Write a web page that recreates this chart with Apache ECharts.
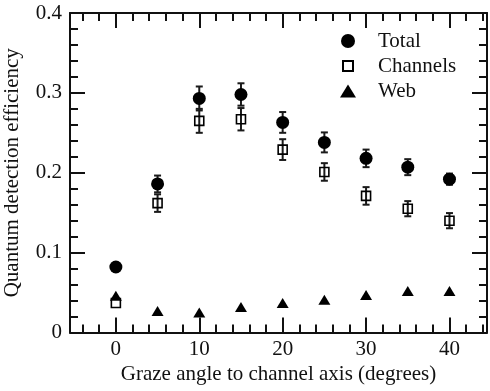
<!DOCTYPE html>
<html>
<head>
<meta charset="utf-8">
<script src="https://cdn.jsdelivr.net/npm/echarts@6/dist/echarts.min.js"></script>
<style>
html, body { margin: 0; padding: 0; background: #fff; }
#chart { width: 490px; height: 391px; }
</style>
</head>
<body>
<div id="chart"></div>
<script>
// Graze angles (degrees) and measured quantum detection efficiency
const angles = [0, 5, 10, 15, 20, 25, 30, 35, 40];
const totalQDE = [0.082, 0.186, 0.293, 0.298, 0.263, 0.238, 0.218, 0.207, 0.192];
const totalErr = [0, 0.0105, 0.015, 0.014, 0.013, 0.0125, 0.011, 0.010, 0.007];
const channelQDE = [0.037, 0.162, 0.265, 0.267, 0.229, 0.201, 0.171, 0.155, 0.140];
const channelErr = [0, 0.011, 0.015, 0.014, 0.013, 0.011, 0.011, 0.0095, 0.0095];
const webQDE = [0.046, 0.027, 0.025, 0.032, 0.037, 0.041, 0.047, 0.052, 0.052];

// Axis ticks
const xMajorTicks = [0, 10, 20, 30, 40];
const xMinorTicks = [-4, -2, 2, 4, 6, 8, 12, 14, 16, 18, 22, 24, 26, 28, 32, 34, 36, 38, 42, 44];
const yTicks = [0, 0.1, 0.2, 0.3, 0.4];

const X_MIN = -5.5, X_MAX = 44.5;
const INK = '#111';
const SERIF = '"Liberation Serif", "Times New Roman", serif';
const font = { fontFamily: SERIF, fontSize: 21, color: INK };

function errorBars(name, values, errs) {
  const rows = [];
  angles.forEach((a, i) => {
    if (errs[i] > 0) rows.push([a, values[i] - errs[i], values[i] + errs[i]]);
  });
  return {
    name: name + ' error',
    type: 'custom',
    silent: true,
    z: 1,
    encode: { x: 0, y: [1, 2] },
    data: rows,
    renderItem(params, api) {
      const x = api.value(0);
      const lo = api.coord([x, api.value(1)]);
      const hi = api.coord([x, api.value(2)]);
      const w = 3.5;
      const style = { stroke: '#1a1a1a', lineWidth: 2 };
      return {
        type: 'group',
        children: [
          { type: 'line', shape: { x1: lo[0], y1: lo[1], x2: hi[0], y2: hi[1] }, style },
          { type: 'line', shape: { x1: lo[0] - w, y1: lo[1], x2: lo[0] + w, y2: lo[1] }, style },
          { type: 'line', shape: { x1: hi[0] - w, y1: hi[1], x2: hi[0] + w, y2: hi[1] }, style }
        ]
      };
    }
  };
}

function xAxisDef(position, ticks, len, opts) {
  return Object.assign({
    type: 'value',
    position: position,
    min: X_MIN,
    max: X_MAX,
    axisLine: { show: false, onZero: false },
    axisTick: { show: true, inside: true, length: len, customValues: ticks, lineStyle: { color: INK, width: 2 } },
    axisLabel: { show: false },
    splitLine: { show: false }
  }, opts || {});
}

const chart = echarts.init(document.getElementById('chart'), null, { renderer: 'canvas' });

chart.setOption({
  backgroundColor: '#fff',
  animation: false,
  grid: { left: 70, right: 3, top: 13, bottom: 58.5, containLabel: false, outerBoundsMode: 'none' },
  legend: {
    orient: 'vertical',
    left: 334,
    top: 25,
    itemWidth: 16,
    itemHeight: 14,
    itemGap: 3,
    selectedMode: false,
    textStyle: Object.assign({}, font, { lineHeight: 22, padding: [0, 0, 0, 17] }),
    data: [
      { name: 'Total', icon: 'circle', itemStyle: { color: '#000' } },
      { name: 'Channels', icon: 'path://M0,0M16,14M3,2L13,2L13,12L3,12Z',
        itemStyle: { color: 'rgba(0,0,0,0)', borderColor: '#000', borderWidth: 2 } },
      { name: 'Web', icon: 'path://M0,0M16,14M8,0.5L16,13.5L0,13.5Z', itemStyle: { color: '#000' } }
    ]
  },
  xAxis: [
    xAxisDef('bottom', xMajorTicks, 15, {
      axisLine: { show: true, onZero: false, lineStyle: { color: INK, width: 2 } },
      axisLabel: Object.assign({ show: true, margin: 6, customValues: xMajorTicks }, font),
      name: 'Graze angle to channel axis (degrees)',
      nameLocation: 'middle',
      nameGap: 25,
      nameTextStyle: font
    }),
    xAxisDef('bottom', xMinorTicks, 8),
    xAxisDef('top', xMajorTicks, 15, {
      axisLine: { show: true, onZero: false, lineStyle: { color: INK, width: 2 } }
    }),
    xAxisDef('top', xMinorTicks, 8)
  ],
  yAxis: [
    {
      type: 'value',
      position: 'left',
      min: yTicks[0],
      max: yTicks[yTicks.length - 1],
      interval: yTicks[1] - yTicks[0],
      axisLine: { show: true, onZero: false, lineStyle: { color: INK, width: 2 } },
      axisTick: { show: true, inside: true, length: 15, lineStyle: { color: INK, width: 2 } },
      minorTick: { show: true, splitNumber: 5, length: 8, lineStyle: { color: INK, width: 2 } },
      axisLabel: Object.assign({ margin: 8 }, font),
      splitLine: { show: false },
      name: 'Quantum detection efficiency',
      nameLocation: 'middle',
      nameGap: 47,
      nameTextStyle: font
    },
    {
      type: 'value',
      position: 'right',
      min: yTicks[0],
      max: yTicks[yTicks.length - 1],
      interval: yTicks[1] - yTicks[0],
      axisLine: { show: true, onZero: false, lineStyle: { color: INK, width: 2 } },
      axisTick: { show: true, inside: true, length: 15, lineStyle: { color: INK, width: 2 } },
      minorTick: { show: true, splitNumber: 5, length: 8, lineStyle: { color: INK, width: 2 } },
      axisLabel: { show: false },
      splitLine: { show: false }
    }
  ],
  series: [
    errorBars('Channels', channelQDE, channelErr),
    errorBars('Total', totalQDE, totalErr),
    {
      name: 'Total',
      type: 'scatter',
      z: 3,
      symbol: 'circle',
      symbolSize: 13,
      itemStyle: { color: '#000', opacity: 1 },
      data: angles.map((a, i) => [a, totalQDE[i]])
    },
    {
      name: 'Channels',
      type: 'scatter',
      z: 3,
      symbol: 'rect',
      symbolSize: 9,
      itemStyle: { color: 'rgba(0,0,0,0)', borderColor: '#000', borderWidth: 1.6, opacity: 1 },
      data: angles.map((a, i) => [a, channelQDE[i]])
    },
    {
      name: 'Web',
      type: 'scatter',
      z: 3,
      symbol: 'triangle',
      symbolSize: [12, 10],
      itemStyle: { color: '#000', opacity: 1 },
      data: angles.map((a, i) => [a, webQDE[i]])
    }
  ]
});
</script>
</body>
</html>
